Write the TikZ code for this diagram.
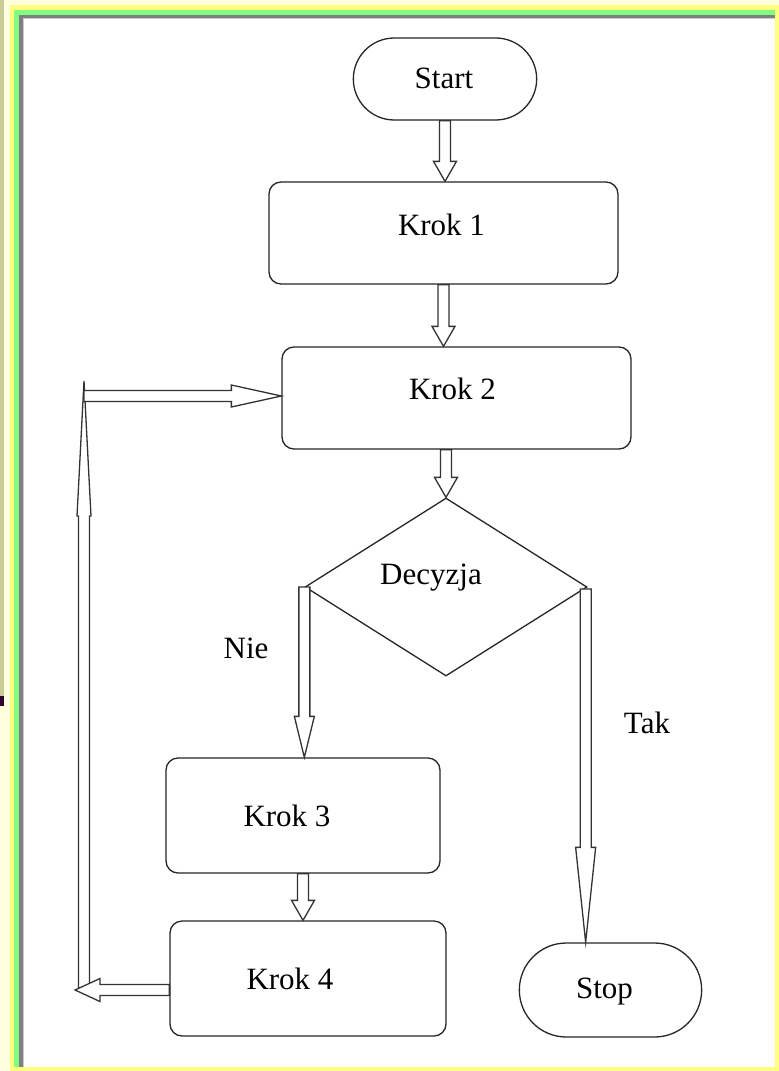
\documentclass[tikz,border=0pt]{standalone}
\usepackage{fontspec}
\setmainfont{Liberation Serif}
\usetikzlibrary{calc,positioning,shapes.geometric,shapes.misc}

\definecolor{cream}{RGB}{255,255,221}
\definecolor{khaki}{RGB}{204,204,153}
\definecolor{plum}{RGB}{51,0,51}
\definecolor{lemon}{RGB}{255,255,128}
\definecolor{mint}{RGB}{128,255,128}

% hollow block arrow: [head length]{head half width}{from}{to}
\newcommand{\pipe}[4][20pt]{%
  \coordinate (pa) at (#3);
  \coordinate (pb) at (#4);
  \coordinate (pc) at ($(pb)!#1!(pa)$);
  \draw[pipeline] ($(pa)!5.5pt!90:(pb)$) -- ($(pc)!5.5pt!90:(pb)$)
    -- ($(pc)!#2!90:(pb)$) -- (pb) -- ($(pc)!#2!-90:(pb)$)
    -- ($(pc)!5.5pt!-90:(pb)$) -- ($(pa)!5.5pt!-90:(pb)$) -- cycle;
}

\tikzset{
  pipeline/.style={draw=black!80,line width=1.3pt,fill=white,line join=miter},
  krok/.style={draw=black!85,line width=1.3pt,rounded corners=12pt},
  terminal/.style={draw=black!85,line width=1.3pt,rounded rectangle},
  decision/.style={draw=black!85,line width=1.3pt,diamond,inner sep=0pt},
  tag/.style={font=\fontsize{31}{36}\selectfont}
}

\begin{document}
\begin{tikzpicture}[x=1pt,y=-1pt]
\useasboundingbox (0,0) rectangle (779,1071);
% frame
\fill[cream] (0,0) rectangle (779,1071);
\fill[khaki] (0,0) rectangle (4,696);
\fill[plum] (0,696) rectangle (4,706);
\fill[lemon] (10,5) rectangle (779,1071);
\fill[mint] (14,10) rectangle (775,1067);
\fill[black!50] (19,15) rectangle (775,1067);
\fill[black!20] (23,18) rectangle (775,1067);
\fill[white] (24,19) rectangle (775,1067);

% boxes
\node[terminal,minimum width=190pt,minimum height=82pt,
  label={[tag,xshift=-1pt,yshift=1pt]center:Start}] (start) at (445,79) {};
\node[krok,minimum width=349pt,minimum height=102pt,
  label={[tag,xshift=-2pt,yshift=8pt]center:Krok 1}] (k1) at (443.5,233) {};
\node[krok,minimum width=349pt,minimum height=102pt,
  label={[tag,xshift=-4pt,yshift=9pt]center:Krok 2}] (k2) at (456.5,398) {};
\node[decision,minimum width=282pt,minimum height=178pt,
  label={[tag,xshift=-15pt,yshift=9pt]center:Decyzja}] (dec) at (446,587) {};
\node[krok,minimum width=274pt,minimum height=115pt,
  label={[tag,xshift=-16pt]center:Krok 3}] (k3) at (303,815.5) {};
\node[krok,minimum width=276pt,minimum height=115pt,
  label={[tag,xshift=-18pt]center:Krok 4}] (k4) at (308,978.5) {};
\node[terminal,minimum width=189pt,minimum height=94pt,
  label={[tag,xshift=-6pt,yshift=-2pt]center:Stop}] (stop) at (610.5,990) {};
\node[tag] (nie) at (246,648) {Nie};
\node[tag] (tak) at (647,723) {Tak};

% loop
\coordinate (lb) at (84,988);
\coordinate (lt) at (84,381);
\coordinate (lm) at (84,396);
\coordinate (le) at (75,990);

% connectors
\pipe[20pt]{11.5pt}{start.south}{start.south |- k1.north}
\pipe[20pt]{11.5pt}{k1.south}{k1.south |- k2.north}
\pipe[20pt]{11.5pt}{dec.north |- k2.south}{dec.north}
\pipe[41pt]{10pt}{dec.west}{dec.west |- k3.north}
\pipe[95pt]{10pt}{$(dec.east)+(-2,2)$}{$(dec.east |- stop.north)+(-2,0)$}
\pipe[20pt]{11.5pt}{k3.south}{k3.south |- k4.north}
\pipe[135pt]{7pt}{lb}{lt}
\pipe[50pt]{11pt}{lm}{lm -| k2.west}
\pipe[25pt]{11.5pt}{k4.west |- le}{le}
\end{tikzpicture}
\end{document}
